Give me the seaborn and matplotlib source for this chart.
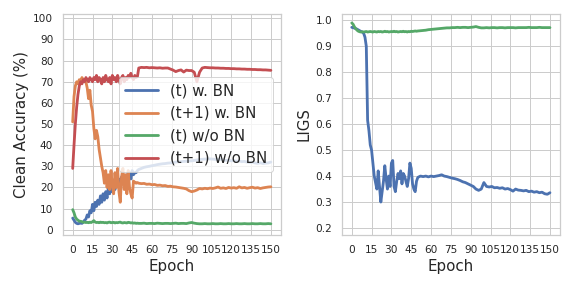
import numpy as np
import pandas as pd
import matplotlib
matplotlib.use("Agg")
import matplotlib.pyplot as plt
import seaborn as sns

# epochs: every epoch up to 50, then every second epoch
epochs = list(range(51)) + list(range(52, 151, 2))

# --------------------
# Clean accuracy (%)
# --------------------
acc_bn_t = [5.5, 4.5, 3.5, 3.0, 2.8, 3.0, 3.2, 3.0, 3.5, 4.5,
            5.0, 7.0, 6.0, 9.0, 8.0, 12.0, 9.0, 13.0, 11.0, 14.0,
            12.0, 16.0, 13.0, 17.0, 14.0, 18.0, 15.0, 20.0, 17.0, 21.0,
            18.0, 22.0, 19.0, 23.0, 21.0, 24.0, 20.0, 25.0, 22.0, 24.0,
            21.0, 26.0, 23.0, 27.0, 24.0, 28.0, 26.0, 27.0, 27.0, 28.0,
            28.5,
            29.0, 29.5, 29.8, 30.0, 30.3, 30.5, 30.8, 31.0, 31.2, 31.3,
            31.5, 31.6, 31.8, 32.0, 32.1, 32.2, 32.3, 32.4, 32.5, 32.6,
            32.8, 33.0, 33.2, 33.3, 33.4, 33.5, 33.5, 33.4, 33.3, 33.2,
            33.4, 33.0, 32.8, 32.9, 32.6, 32.7, 32.4, 32.5, 32.2, 32.3,
            32.0, 31.8, 32.0, 31.6, 31.4, 31.7, 31.3, 31.5, 31.6, 32.0]

acc_bn_t1 = [51, 63, 68, 70, 69, 71, 70, 72, 71, 70,
             70, 67, 62, 66, 59, 56, 48, 43, 47, 44,
             38, 34, 30, 27, 22, 28, 20, 26, 19, 28,
             21, 17, 27, 20, 29, 18, 13, 25, 29, 19,
             26, 17, 28, 20, 17, 15, 23, 22.5, 22, 22.3,
             22,
             21.8, 21.9, 21.5, 21.6, 21.3, 21.4, 21.0, 21.1, 20.8, 20.9,
             20.5, 20.6, 20.3, 20.2, 20.0, 19.8, 19.6, 19.3, 18.5, 18.0,
             18.3, 18.8, 19.5, 19.3, 19.6, 19.4, 19.7, 19.5, 19.8, 20.2,
             19.6, 19.8, 19.5, 20.0, 19.7, 19.9, 19.6, 20.3, 19.8, 20.0,
             19.6, 19.9, 20.1, 19.7, 19.9, 19.5, 19.8, 20.0, 20.2, 20.3]

acc_nobn_t = [9.5, 8.0, 6.0, 5.0, 4.5, 4.0, 4.0, 3.8, 3.5, 3.6,
              3.4, 3.5, 3.3, 3.6, 3.4, 3.8, 4.3, 3.6, 3.4, 3.5,
              3.3, 3.6, 3.4, 3.5, 3.3, 3.4, 3.2, 3.5, 3.6, 3.3,
              3.4, 3.5, 3.2, 3.4, 3.3, 3.5, 3.6, 3.3, 3.2, 3.4,
              3.3, 3.2, 3.5, 3.4, 3.2, 3.3, 3.1, 3.2, 3.0, 3.1,
              3.0,
              3.0, 3.1, 2.9, 3.0, 3.0, 2.9, 3.1, 3.0, 2.9, 3.0,
              3.0, 2.9, 3.0, 3.1, 2.9, 3.0, 3.0, 2.9, 3.2, 3.4,
              3.1, 2.9, 2.8, 2.8, 2.9, 2.8, 2.8, 2.9, 2.8, 2.8,
              2.9, 2.8, 2.8, 2.9, 2.8, 2.8, 2.9, 2.8, 2.8, 2.9,
              2.8, 2.8, 2.9, 2.8, 2.8, 2.9, 2.8, 2.8, 2.9, 2.8]

acc_nobn_t1 = [29, 40, 50, 58, 64, 68, 70, 69, 71, 70,
               72, 71, 70, 72, 71, 70, 72, 71, 73, 70,
               72, 71, 69, 72, 70, 73, 71, 70, 72, 69,
               73, 71, 72, 70, 73, 71, 69, 72, 73, 70,
               72, 71, 73, 72, 74, 72, 71, 73, 72, 72.5,
               76.5,
               76.8, 76.7, 76.8, 76.6, 76.7, 76.6, 76.5, 76.6, 76.4, 76.5,
               76.5, 76.0, 75.5, 74.8, 75.3, 75.6, 74.6, 75.5, 75.3, 75.3,
               74.5, 70.0, 74.5, 76.5, 76.8, 76.7, 76.6, 76.6, 76.5, 76.5,
               76.4, 76.4, 76.3, 76.3, 76.2, 76.2, 76.1, 76.1, 76.0, 76.0,
               75.9, 75.9, 75.8, 75.8, 75.7, 75.7, 75.6, 75.6, 75.5, 75.4]

# --------------------
# LIGS
# --------------------
ligs_bn = [0.973, 0.972, 0.970, 0.968, 0.966, 0.963, 0.960, 0.957, 0.955, 0.950,
           0.935, 0.900, 0.615, 0.575, 0.520, 0.500, 0.450, 0.400, 0.375, 0.350,
           0.420, 0.360, 0.300, 0.340, 0.380, 0.440, 0.390, 0.350, 0.400, 0.360,
           0.450, 0.460, 0.360, 0.340, 0.380, 0.410, 0.390, 0.420, 0.370, 0.410,
           0.400, 0.380, 0.360, 0.390, 0.450, 0.430, 0.370, 0.350, 0.340, 0.380,
           0.395,
           0.400, 0.398, 0.400, 0.397, 0.400, 0.398, 0.400, 0.402, 0.405, 0.400,
           0.398, 0.395, 0.392, 0.390, 0.387, 0.383, 0.378, 0.375, 0.370, 0.365,
           0.360, 0.350, 0.345, 0.350, 0.375, 0.360, 0.358, 0.360, 0.355, 0.356,
           0.353, 0.355, 0.350, 0.352, 0.348, 0.342, 0.350, 0.346, 0.345, 0.343,
           0.345, 0.340, 0.342, 0.338, 0.340, 0.336, 0.338, 0.332, 0.330, 0.336]

ligs_nobn = [0.990, 0.985, 0.975, 0.968, 0.962, 0.958, 0.956, 0.955, 0.956, 0.955,
             0.956, 0.957, 0.955, 0.956, 0.957, 0.956, 0.955, 0.957, 0.956, 0.955,
             0.957, 0.956, 0.957, 0.955, 0.956, 0.958, 0.956, 0.957, 0.955, 0.956,
             0.957, 0.956, 0.958, 0.956, 0.957, 0.955, 0.956, 0.957, 0.956, 0.958,
             0.956, 0.957, 0.955, 0.957, 0.956, 0.958, 0.957, 0.958, 0.959, 0.958,
             0.959,
             0.960, 0.961, 0.962, 0.964, 0.965, 0.966, 0.967, 0.968, 0.969, 0.970,
             0.971, 0.971, 0.972, 0.972, 0.973, 0.972, 0.973, 0.973, 0.972, 0.973,
             0.974, 0.976, 0.973, 0.971, 0.971, 0.972, 0.971, 0.972, 0.972, 0.971,
             0.972, 0.972, 0.971, 0.972, 0.972, 0.972, 0.971, 0.972, 0.972, 0.972,
             0.972, 0.973, 0.972, 0.972, 0.972, 0.973, 0.972, 0.972, 0.972, 0.972]

labels = ["(t) w. BN", "(t+1) w. BN", "(t) w/o BN", "(t+1) w/o BN"]
xticks = list(range(0, 151, 15))

sns.set_theme(style="whitegrid")
colors = sns.color_palette("deep")
lw = 2.8

fig, (ax1, ax2) = plt.subplots(1, 2, figsize=(8, 4), dpi=72)
fig.subplots_adjust(left=0.109, right=0.972, top=0.951, bottom=0.184, wspace=0.28)

acc_df = pd.DataFrame({"Epoch": epochs, labels[0]: acc_bn_t, labels[1]: acc_bn_t1,
                       labels[2]: acc_nobn_t, labels[3]: acc_nobn_t1})
for lab, c in zip(labels, [colors[0], colors[1], colors[2], colors[3]]):
    sns.lineplot(data=acc_df, x="Epoch", y=lab, ax=ax1, color=c, lw=lw, label=lab)

ax1.set_ylim(-2.5, 102)
ax1.set_yticks(range(0, 101, 10))
ax1.set_xticks(xticks)
ax1.set_xlabel("Epoch", fontsize=15)
ax1.set_ylabel("Clean Accuracy (%)", fontsize=15)
ax1.tick_params(labelsize=10.5)
ax1.legend(loc="center right", fontsize=15, handlelength=2.2)

ligs_df = pd.DataFrame({"Epoch": epochs, "bn": ligs_bn, "nobn": ligs_nobn})
sns.lineplot(data=ligs_df, x="Epoch", y="bn", ax=ax2, color=colors[0], lw=lw)
sns.lineplot(data=ligs_df, x="Epoch", y="nobn", ax=ax2, color=colors[2], lw=lw)
ax2.set_ylim(0.173, 1.024)
ax2.set_yticks(np.arange(0.2, 1.01, 0.1))
ax2.set_xticks(xticks)
ax2.set_xlabel("Epoch", fontsize=15)
ax2.set_ylabel("LIGS", fontsize=15)
ax2.tick_params(labelsize=10.5)

fig.savefig("out.png", dpi=72)
